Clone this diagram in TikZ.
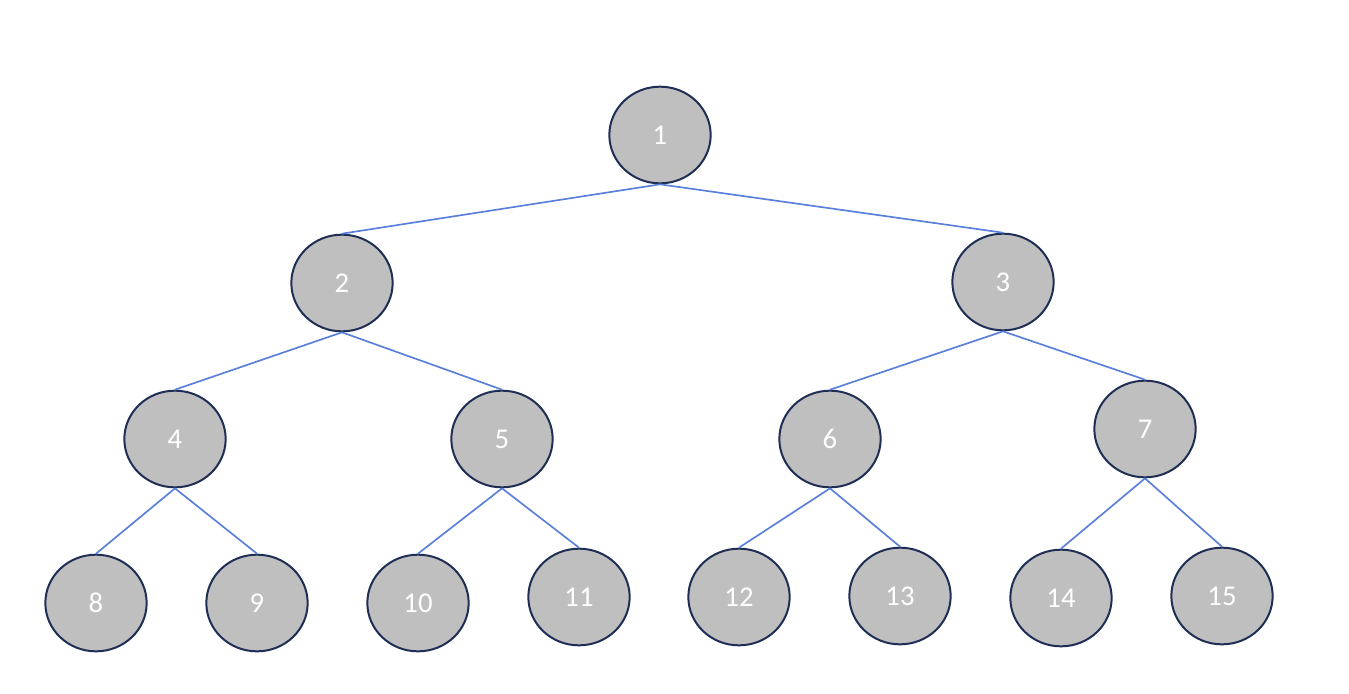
\documentclass[tikz,border=0pt]{standalone}
\usepackage{fontspec}
\setmainfont{Carlito}
\usetikzlibrary{shapes.geometric}
\definecolor{nodefill}{HTML}{BFBFBF}
\definecolor{nodeline}{HTML}{1F2E54}
\definecolor{edgeline}{HTML}{5A7FDB}
\tikzset{
  treenode/.style={ellipse, draw=nodeline, line width=1.5pt, fill=nodefill,
    minimum width=76pt, minimum height=72.5pt, inner sep=0pt,
    text=white, font=\fontsize{21.5}{25}\selectfont},
  treeedge/.style={draw=edgeline, line width=1.25pt}
}
\begin{document}
\begin{tikzpicture}[x=0.75pt, y=-0.75pt]
\useasboundingbox (0,0) rectangle (1349,693);
\node[treenode] (n1) at (660,135) {1};
\node[treenode] (n2) at (342,283) {2};
\node[treenode] (n3) at (1003,282) {3};
\node[treenode] (n4) at (175,439) {4};
\node[treenode] (n5) at (502,439) {5};
\node[treenode] (n6) at (830,439) {6};
\node[treenode] (n7) at (1145,429) {7};
\node[treenode] (n8) at (96,603) {8};
\node[treenode] (n9) at (257,603) {9};
\node[treenode] (n10) at (418,603) {10};
\node[treenode] (n11) at (579,597) {11};
\node[treenode] (n12) at (739,597) {12};
\node[treenode] (n13) at (900,596) {13};
\node[treenode] (n14) at (1061,598) {14};
\node[treenode] (n15) at (1222,596) {15};
\draw[treeedge] (n1.south) -- (n2.north);
\draw[treeedge] (n1.south) -- (n3.north);
\draw[treeedge] (n2.south) -- (n4.north);
\draw[treeedge] (n2.south) -- (n5.north);
\draw[treeedge] (n3.south) -- (n6.north);
\draw[treeedge] (n3.south) -- (n7.north);
\draw[treeedge] (n4.south) -- (n8.north);
\draw[treeedge] (n4.south) -- (n9.north);
\draw[treeedge] (n5.south) -- (n10.north);
\draw[treeedge] (n5.south) -- (n11.north);
\draw[treeedge] (n6.south) -- (n12.north);
\draw[treeedge] (n6.south) -- (n13.north);
\draw[treeedge] (n7.south) -- (n14.north);
\draw[treeedge] (n7.south) -- (n15.north);
\end{tikzpicture}
\end{document}
